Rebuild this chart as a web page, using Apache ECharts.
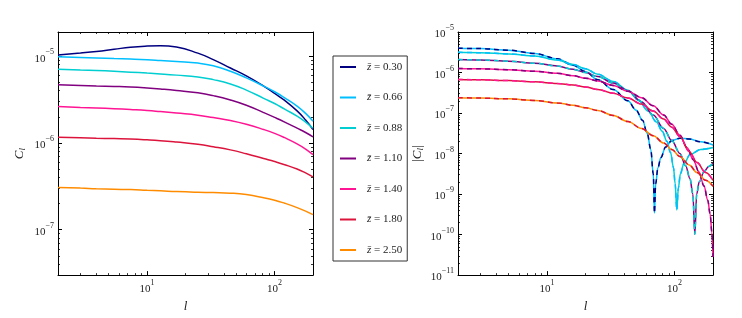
<!DOCTYPE html>
<html><head><meta charset="utf-8">
<script src="https://cdn.jsdelivr.net/npm/echarts@6/dist/echarts.min.js"></script>
<style>html,body{margin:0;padding:0;background:#fff}#c{width:742px;height:318px}</style>
</head><body><div id="c"></div>
<script>
// ---- data ----
const binLabels = ['0.30', '0.66', '0.88', '1.10', '1.40', '1.80', '2.50'];
const binColors = ['#000080', '#00BFFF', '#00CED1', '#800080', '#FF1493', '#DC143C', '#FF8C00'];

// left panel: auto spectra C_l
const ellAuto = [2, 3, 4, 5.5, 7.4, 10, 12.7, 17, 25, 33, 45, 60, 82, 100, 120, 150, 175, 200];
const autoZ030 = [1.033e-5, 1.089e-5, 1.135e-5, 1.202e-5, 1.268e-5, 1.309e-5, 1.321e-5, 1.274e-5, 1.084e-5, 9.12e-6, 7.31e-6, 5.92e-6, 4.52e-6, 3.72e-6, 3.09e-6, 2.34e-6, 1.84e-6, 1.43e-6];
const autoZ066 = [9.82e-6, 9.68e-6, 9.55e-6, 9.40e-6, 9.27e-6, 9.10e-6, 8.91e-6, 8.67e-6, 8.32e-6, 7.76e-6, 6.71e-6, 5.62e-6, 4.52e-6, 3.89e-6, 3.31e-6, 2.66e-6, 2.19e-6, 1.78e-6];
const autoZ088 = [7.08e-6, 6.95e-6, 6.84e-6, 6.70e-6, 6.55e-6, 6.38e-6, 6.24e-6, 6.05e-6, 5.77e-6, 5.37e-6, 4.79e-6, 4.07e-6, 3.27e-6, 2.85e-6, 2.45e-6, 2.04e-6, 1.74e-6, 1.48e-6];
const autoZ110 = [4.68e-6, 4.60e-6, 4.54e-6, 4.48e-6, 4.41e-6, 4.30e-6, 4.19e-6, 4.03e-6, 3.78e-6, 3.51e-6, 3.13e-6, 2.72e-6, 2.24e-6, 1.97e-6, 1.74e-6, 1.48e-6, 1.32e-6, 1.175e-6];
const autoZ140 = [2.63e-6, 2.57e-6, 2.53e-6, 2.48e-6, 2.43e-6, 2.37e-6, 2.30e-6, 2.21e-6, 2.09e-6, 1.96e-6, 1.81e-6, 1.64e-6, 1.43e-6, 1.29e-6, 1.15e-6, 9.77e-7, 8.51e-7, 7.33e-7];
const autoZ180 = [1.16e-6, 1.148e-6, 1.135e-6, 1.122e-6, 1.109e-6, 1.086e-6, 1.062e-6, 1.023e-6, 9.66e-7, 9.06e-7, 8.32e-7, 7.50e-7, 6.61e-7, 6.10e-7, 5.62e-7, 5.01e-7, 4.52e-7, 4.07e-7];
const autoZ250 = [3.07e-7, 3.02e-7, 2.97e-7, 2.93e-7, 2.90e-7, 2.85e-7, 2.81e-7, 2.75e-7, 2.70e-7, 2.68e-7, 2.64e-7, 2.54e-7, 2.34e-7, 2.19e-7, 2.02e-7, 1.80e-7, 1.64e-7, 1.49e-7];
const autoSpectra = [autoZ030, autoZ066, autoZ088, autoZ110, autoZ140, autoZ180, autoZ250];

// right panel: |C_l| cross spectra of neighbouring bins
const ellCrossA = [2, 3, 5, 8, 12, 16, 20, 25, 33, 43, 50, 56, 61, 65, 68, 69.5, 71, 74, 78, 85, 95, 110, 130, 160, 200];
const crossA = [3.98e-6, 3.89e-6, 3.55e-6, 2.95e-6, 2.19e-6, 1.51e-6, 1.05e-6, 6.61e-7, 3.80e-7, 2.00e-7, 1.175e-7, 6.61e-8, 3.16e-8, 1.26e-8, 3.16e-9, 3.39e-10, 1.78e-9, 4.47e-9, 7.94e-9, 1.45e-8, 2.09e-8, 2.40e-8, 2.29e-8, 1.95e-8, 1.62e-8];
const ellCrossB = [2, 3, 5, 8, 12, 16, 20, 25, 33, 43, 52, 62, 72, 80, 87, 93, 98, 101, 104, 107, 111, 118, 133, 160, 200];
const crossB = [3.16e-6, 3.09e-6, 2.88e-6, 2.57e-6, 2.04e-6, 1.585e-6, 1.23e-6, 9.12e-7, 6.03e-7, 3.63e-7, 2.09e-7, 1.12e-7, 6.03e-8, 3.55e-8, 2.0e-8, 1.05e-8, 4.47e-9, 1.78e-9, 4.07e-10, 1.41e-9, 3.16e-9, 5.62e-9, 9.55e-9, 1.26e-8, 1.41e-8];
const ellCrossC = [2, 3, 5, 8, 12, 16, 20, 25, 33, 43, 55, 68, 82, 95, 110, 122, 132, 139, 144, 149, 156, 170, 185, 200];
const crossC = [2.09e-6, 2.04e-6, 1.905e-6, 1.70e-6, 1.445e-6, 1.20e-6, 1.0e-6, 7.94e-7, 5.50e-7, 3.55e-7, 1.905e-7, 8.91e-8, 4.17e-8, 2.09e-8, 1.0e-8, 5.01e-9, 2.40e-9, 1.0e-9, 1.02e-10, 1.0e-9, 2.0e-9, 3.55e-9, 4.79e-9, 5.75e-9];
const ellCrossD = [2, 3, 5, 8, 12, 16, 20, 25, 33, 43, 55, 68, 82, 95, 110, 125, 140, 155, 170, 182, 190, 196, 200];
const crossD = [1.26e-6, 1.23e-6, 1.175e-6, 1.07e-6, 9.55e-7, 8.32e-7, 7.24e-7, 6.17e-7, 4.79e-7, 3.47e-7, 2.40e-7, 1.51e-7, 8.91e-8, 5.25e-8, 2.82e-8, 1.41e-8, 7.08e-9, 3.55e-9, 1.585e-9, 7.08e-10, 3.16e-10, 1.12e-10, 2.82e-11];
const ellCrossE = [2, 3, 5, 8, 12, 16, 20, 25, 33, 43, 55, 68, 82, 95, 110, 130, 150, 175, 200];
const crossE = [6.76e-7, 6.61e-7, 6.31e-7, 5.89e-7, 5.37e-7, 4.90e-7, 4.37e-7, 3.80e-7, 3.09e-7, 2.34e-7, 1.66e-7, 1.12e-7, 7.08e-8, 4.47e-8, 2.63e-8, 1.12e-8, 6.03e-9, 3.39e-9, 2.19e-9];
const ellCrossF = [2, 3, 5, 8, 12, 16, 20, 25, 33, 43, 55, 68, 82, 95, 110, 130, 150, 175, 200];
const crossF = [2.40e-7, 2.34e-7, 2.24e-7, 2.04e-7, 1.78e-7, 1.55e-7, 1.35e-7, 1.15e-7, 8.71e-8, 6.17e-8, 4.17e-8, 2.75e-8, 1.82e-8, 1.26e-8, 8.51e-9, 5.25e-9, 3.39e-9, 2.19e-9, 1.55e-9];
const crossEll = [ellCrossA, ellCrossB, ellCrossC, ellCrossD, ellCrossE, ellCrossF];
const crossVals = [crossA, crossB, crossC, crossD, crossE, crossF];
// colour index of (solid, dashed) for each cross curve
const crossSolid = [1, 2, 3, 4, 5, 6];
const crossDash = [0, 1, 2, 3, 4, 5];

// ---- chart ----
const FONT = 'Liberation Serif';
const chart = echarts.init(document.getElementById('c'), null, { renderer: 'canvas' });

function powLabel(v) {
  const e = Math.log10(v);
  const r = Math.round(e);
  if (Math.abs(e - r) > 1e-6) return '';
  return '{b|10}{s|' + (r < 0 ? '\u2212' : '') + Math.abs(r) + '}';
}
const labelRich = {
  b: { fontFamily: FONT, fontSize: 11, color: '#222', lineHeight: 16, verticalAlign: 'bottom' },
  s: { fontFamily: FONT, fontSize: 8, color: '#222', lineHeight: 16, verticalAlign: 'top' }
};

function makeAxis(opts) {
  const base = {
    type: 'log', logBase: 10,
    axisLine: { show: true, onZero: false, lineStyle: { color: '#000', width: 1 } },
    axisTick: { show: true, inside: true, length: 4, lineStyle: { color: '#000', width: 1 } },
    minorTick: { show: true, splitNumber: 9, length: 2, lineStyle: { color: '#000', width: 0.8 } },
    splitLine: { show: false },
    minorSplitLine: { show: false },
    axisLabel: { show: false }
  };
  return Object.assign(base, opts);
}
function shownLabel(margin) {
  return { show: true, margin: margin, formatter: powLabel, rich: labelRich, showMinLabel: true, showMaxLabel: true, hideOverlap: false };
}
const xName = { fontFamily: FONT, fontStyle: 'italic', fontSize: 13, color: '#222' };

const xAxes = [
  makeAxis({ gridIndex: 0, position: 'bottom', min: 2, max: 200, axisLabel: shownLabel(4),
    name: 'l', nameLocation: 'middle', nameGap: 17, nameTextStyle: xName }),
  makeAxis({ gridIndex: 0, position: 'top', min: 2, max: 200 }),
  makeAxis({ gridIndex: 1, position: 'bottom', min: 2, max: 200, axisLabel: shownLabel(4),
    name: 'l', nameLocation: 'middle', nameGap: 17, nameTextStyle: xName }),
  makeAxis({ gridIndex: 1, position: 'top', min: 2, max: 200 })
];
const nameRich = {
  i: { fontFamily: FONT, fontStyle: 'italic', fontSize: 13, color: '#222' },
  n: { fontFamily: FONT, fontSize: 13, color: '#222' },
  sub: { fontFamily: FONT, fontStyle: 'italic', fontSize: 9, color: '#222', padding: [6, 0, 0, 0] }
};
const yAxes = [
  makeAxis({ gridIndex: 0, position: 'left', min: 3.0e-8, max: 1.9e-5, axisLabel: shownLabel(4),
    name: '{i|C}{sub|l}', nameLocation: 'middle', nameGap: 31, nameRotate: 90,
    nameTextStyle: { rich: nameRich } }),
  makeAxis({ gridIndex: 0, position: 'right', min: 3.0e-8, max: 1.9e-5 }),
  makeAxis({ gridIndex: 1, position: 'left', min: 1e-11, max: 1e-5, axisLabel: shownLabel(4),
    name: '{n||}{i|C}{sub|l}{n||}', nameLocation: 'middle', nameGap: 33, nameRotate: 90,
    nameTextStyle: { rich: nameRich } }),
  makeAxis({ gridIndex: 1, position: 'right', min: 1e-11, max: 1e-5 })
];

const series = [];
autoSpectra.forEach(function (vals, i) {
  series.push({
    type: 'line', name: 'z' + i, xAxisIndex: 0, yAxisIndex: 0,
    data: ellAuto.map(function (l, k) { return [l, vals[k]]; }),
    symbol: 'none', smooth: 0.5,
    lineStyle: { color: binColors[i], width: 1.5 }, itemStyle: { color: binColors[i] },
    silent: true
  });
});
crossVals.forEach(function (vals, j) {
  const d = crossEll[j].map(function (l, k) { return [l, vals[k]]; });
  series.push({
    type: 'line', name: 'cs' + j, xAxisIndex: 2, yAxisIndex: 2, data: d,
    symbol: 'none', smooth: 0.35, smoothMonotone: 'x',
    lineStyle: { color: binColors[crossSolid[j]], width: 1.5 }, silent: true
  });
  series.push({
    type: 'line', name: 'cd' + j, xAxisIndex: 2, yAxisIndex: 2, data: d,
    symbol: 'none', smooth: 0.35, smoothMonotone: 'x',
    lineStyle: { color: binColors[crossDash[j]], width: 1.5, type: [5, 4] }, silent: true
  });
});

chart.setOption({
  animation: false,
  backgroundColor: '#fff',
  grid: [
    { left: 58, top: 32, width: 255, height: 254 },
    { left: 458, top: 32, width: 255, height: 254 }
  ],
  xAxis: xAxes,
  yAxis: yAxes,
  legend: {
    orient: 'vertical', left: 333, top: 56,
    data: binLabels.map(function (b, i) { return 'z' + i; }),
    formatter: function (name) { return '{z|z\u0304} = ' + binLabels[+name.slice(1)]; },
    textStyle: { fontFamily: FONT, fontSize: 11, lineHeight: 14, color: '#222', padding: [0, 0, 0, 6],
      rich: { z: { fontFamily: FONT, fontStyle: 'italic', fontSize: 11, lineHeight: 14, color: '#222' } } },
    icon: 'rect',
    itemWidth: 16, itemHeight: 2, itemGap: 16.5,
    padding: [4, 5, 4, 7],
    borderColor: '#333', borderWidth: 1, borderRadius: 0,
    selectedMode: false
  },
  series: series
});
</script></body></html>
